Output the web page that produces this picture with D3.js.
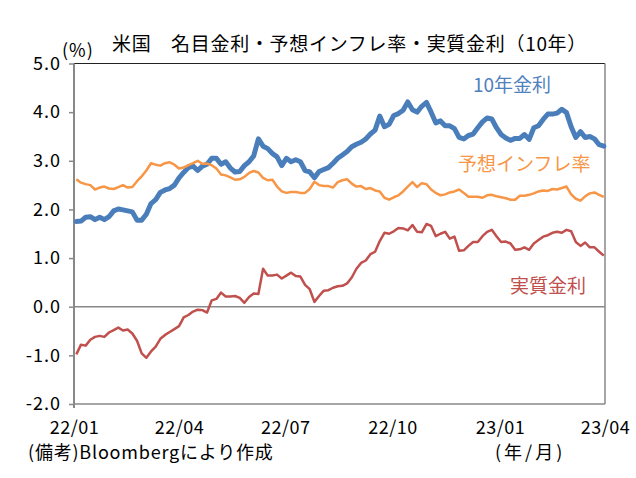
<!DOCTYPE html>
<html>
<head>
<meta charset="utf-8">
<script src="https://cdn.jsdelivr.net/npm/d3@7"></script>
<style>
  body { margin: 0; background: #fff; }
  text { font-family: "Noto Sans CJK JP", "Noto Sans", sans-serif; }
</style>
</head>
<body>
<div id="chart"></div>
<script>
// sample dates (every 4 days)
var dates = [
  "2022-01-03","2022-01-07","2022-01-11","2022-01-15","2022-01-19","2022-01-23","2022-01-27","2022-01-31",
  "2022-02-04","2022-02-08","2022-02-12","2022-02-16","2022-02-20","2022-02-24","2022-02-28",
  "2022-03-04","2022-03-08","2022-03-12","2022-03-16","2022-03-20","2022-03-24","2022-03-28",
  "2022-04-01","2022-04-05","2022-04-09","2022-04-13","2022-04-17","2022-04-21","2022-04-25","2022-04-29",
  "2022-05-03","2022-05-07","2022-05-11","2022-05-15","2022-05-19","2022-05-23","2022-05-27","2022-05-31",
  "2022-06-04","2022-06-08","2022-06-12","2022-06-16","2022-06-20","2022-06-24","2022-06-28",
  "2022-07-02","2022-07-06","2022-07-10","2022-07-14","2022-07-18","2022-07-22","2022-07-26","2022-07-30",
  "2022-08-03","2022-08-07","2022-08-11","2022-08-15","2022-08-19","2022-08-23","2022-08-27","2022-08-31",
  "2022-09-04","2022-09-08","2022-09-12","2022-09-16","2022-09-20","2022-09-24","2022-09-28",
  "2022-10-02","2022-10-06","2022-10-10","2022-10-14","2022-10-18","2022-10-22","2022-10-26","2022-10-30",
  "2022-11-03","2022-11-07","2022-11-11","2022-11-15","2022-11-19","2022-11-23","2022-11-27",
  "2022-12-01","2022-12-05","2022-12-09","2022-12-13","2022-12-17","2022-12-21","2022-12-25","2022-12-29",
  "2023-01-02","2023-01-06","2023-01-10","2023-01-14","2023-01-18","2023-01-22","2023-01-26","2023-01-30",
  "2023-02-03","2023-02-07","2023-02-11","2023-02-15","2023-02-19","2023-02-23","2023-02-27",
  "2023-03-03","2023-03-07","2023-03-11","2023-03-15","2023-03-19","2023-03-23","2023-03-27","2023-03-31"
];

// 10年金利
var nominal = [
  1.75,1.76,1.84,1.85,1.79,1.84,1.79,1.85,
  1.97,2.01,1.99,1.97,1.95,1.78,1.78,
  1.90,2.12,2.20,2.35,2.40,2.43,2.50,
  2.65,2.76,2.86,2.89,2.80,2.89,2.93,3.05,
  3.05,2.93,2.98,2.85,2.77,2.78,2.90,2.98,
  3.10,3.45,3.30,3.25,3.15,3.08,2.90,
  3.05,2.98,3.02,2.98,2.80,2.77,2.65,2.78,
  2.82,2.86,2.95,3.05,3.12,3.19,3.29,3.34,
  3.38,3.45,3.55,3.63,3.92,3.70,3.75,
  3.93,3.97,4.04,4.21,4.05,4.00,4.12,4.20,
  4.00,3.78,3.82,3.72,3.72,3.66,3.48,
  3.45,3.52,3.55,3.68,3.80,3.88,3.86,3.68,
  3.54,3.47,3.42,3.46,3.46,3.54,3.44,3.68,
  3.72,3.85,3.96,3.96,3.98,4.06,3.99,
  3.70,3.48,3.60,3.48,3.50,3.45,3.33,3.30
];

// 予想インフレ率
var breakeven = [
  2.62,2.55,2.52,2.50,2.41,2.45,2.47,2.43,
  2.42,2.46,2.50,2.45,2.46,2.58,2.68,
  2.80,2.95,2.92,2.90,2.95,2.97,2.92,
  2.84,2.86,2.91,2.95,3.00,2.94,2.94,2.91,
  2.84,2.72,2.70,2.66,2.61,2.62,2.67,2.75,
  2.79,2.76,2.65,2.60,2.61,2.47,2.37,
  2.34,2.36,2.36,2.34,2.34,2.42,2.57,2.50,
  2.48,2.48,2.45,2.56,2.60,2.62,2.53,2.47,
  2.48,2.42,2.44,2.39,2.37,2.24,2.20,
  2.25,2.29,2.37,2.47,2.56,2.46,2.54,2.52,
  2.41,2.34,2.29,2.31,2.35,2.37,2.41,
  2.34,2.26,2.26,2.26,2.24,2.29,2.30,2.27,
  2.25,2.23,2.20,2.20,2.28,2.28,2.30,2.33,
  2.37,2.39,2.38,2.42,2.41,2.44,2.47,
  2.31,2.22,2.18,2.27,2.33,2.35,2.30,2.26
];

// 実質金利
var real = [
  -0.98,-0.78,-0.80,-0.68,-0.62,-0.60,-0.62,-0.53,
  -0.48,-0.43,-0.49,-0.47,-0.55,-0.70,-0.96,
  -1.05,-0.92,-0.82,-0.66,-0.58,-0.52,-0.46,
  -0.40,-0.22,-0.17,-0.10,-0.06,-0.07,-0.12,0.13,
  0.16,0.29,0.21,0.21,0.22,0.18,0.08,0.20,
  0.27,0.26,0.78,0.64,0.64,0.66,0.58,
  0.64,0.70,0.63,0.62,0.45,0.36,0.10,0.22,
  0.33,0.34,0.39,0.42,0.43,0.48,0.60,0.78,
  0.90,0.95,1.08,1.13,1.35,1.52,1.50,
  1.55,1.62,1.61,1.57,1.68,1.54,1.53,1.70,
  1.66,1.45,1.50,1.54,1.40,1.44,1.15,
  1.16,1.25,1.33,1.33,1.45,1.54,1.58,1.45,
  1.33,1.34,1.30,1.17,1.18,1.22,1.17,1.30,
  1.37,1.44,1.47,1.52,1.54,1.52,1.58,
  1.55,1.33,1.25,1.32,1.22,1.22,1.13,1.05
];

var yTicks = [-2, -1, 0, 1, 2, 3, 4, 5];
var xTicks = ["2022-01-01","2022-04-01","2022-07-01","2022-10-01","2023-01-01","2023-04-01"];

var width = 636, height = 478;
var margin = {top: 63.5, right: 31, bottom: 74, left: 74};

var parse = d3.timeParse("%Y-%m-%d");
var X = d3.scaleTime()
    .domain([parse("2022-01-01"), parse("2023-04-01")])
    .range([margin.left, width - margin.right]);
var Y = d3.scaleLinear()
    .domain([-2, 5])
    .range([height - margin.bottom, margin.top]);

var svg = d3.select("#chart").append("svg")
    .attr("width", width)
    .attr("height", height);

// plot frame
svg.append("line")
    .attr("x1", X.range()[0]).attr("x2", X.range()[1])
    .attr("y1", Y(5)).attr("y2", Y(5))
    .attr("stroke", "#222").attr("stroke-width", 1.2);
svg.append("line")
    .attr("x1", X.range()[1]).attr("x2", X.range()[1])
    .attr("y1", Y(5)).attr("y2", Y(-2))
    .attr("stroke", "#888").attr("stroke-width", 1.5);
svg.append("line")
    .attr("x1", X.range()[0]).attr("x2", X.range()[1])
    .attr("y1", Y(-2)).attr("y2", Y(-2))
    .attr("stroke", "#888").attr("stroke-width", 1.5);
svg.append("line")
    .attr("x1", X.range()[0]).attr("x2", X.range()[1])
    .attr("y1", Y(0)).attr("y2", Y(0))
    .attr("stroke", "#888").attr("stroke-width", 1.5);

// y axis
var yAxis = svg.append("g")
    .attr("transform", "translate(" + margin.left + ",0)")
    .call(d3.axisLeft(Y).tickValues(yTicks).tickSize(5).tickPadding(8)
        .tickFormat(function(d) { return d.toFixed(1); }));
yAxis.select(".domain").attr("stroke", "#888").attr("stroke-width", 2)
    .attr("d", "M0," + Y(5) + "V" + (Y(-2) + 4));
yAxis.selectAll(".tick line").attr("stroke", "#888").attr("stroke-width", 1.5);
yAxis.selectAll("text")
    .attr("fill", "#000")
    .style("font-size", "18px")
    .style("font-family", '"Noto Sans CJK JP", sans-serif')
    .style("letter-spacing", "1px");

// x axis
var xAxis = svg.append("g")
    .attr("transform", "translate(0," + Y(-2) + ")")
    .call(d3.axisBottom(X).tickValues(xTicks.map(parse)).tickSize(0).tickPadding(17)
        .tickFormat(d3.timeFormat("%y/%m")));
xAxis.select(".domain").remove();
xAxis.selectAll("text")
    .attr("fill", "#000")
    .style("font-size", "18px")
    .style("font-family", '"Noto Sans CJK JP", sans-serif')
    .style("letter-spacing", "0.5px");

// lines
function series(vals) {
    return vals.map(function(v, i) { return {date: parse(dates[i]), value: v}; });
}
var line = d3.line()
    .x(function(d) { return X(d.date); })
    .y(function(d) { return Y(d.value); });

svg.append("path").datum(series(nominal))
    .attr("d", line).attr("fill", "none")
    .attr("stroke", "#4a7ebb").attr("stroke-width", 5)
    .attr("stroke-linejoin", "round").attr("stroke-linecap", "round");
svg.append("path").datum(series(breakeven))
    .attr("d", line).attr("fill", "none")
    .attr("stroke", "#f79646").attr("stroke-width", 2.5)
    .attr("stroke-linejoin", "round");
svg.append("path").datum(series(real))
    .attr("d", line).attr("fill", "none")
    .attr("stroke", "#c0504d").attr("stroke-width", 2.5)
    .attr("stroke-linejoin", "round");

// series labels
svg.append("text").attr("x", 473).attr("y", 92)
    .attr("fill", "#4f81bd").style("font-size", "19px").text("10年金利");
svg.append("text").attr("x", 458).attr("y", 171)
    .attr("fill", "#f79646").style("font-size", "19px").text("予想インフレ率");
svg.append("text").attr("x", 510).attr("y", 293)
    .attr("fill", "#c0504d").style("font-size", "19px").text("実質金利");

// title, unit, notes
svg.append("text").attr("x", 112).attr("y", 51)
    .attr("fill", "#000").style("font-size", "19px").style("letter-spacing", "0.7px")
    .text("米国　名目金利・予想インフレ率・実質金利（10年）");
svg.append("text").attr("x", 62).attr("y", 57)
    .attr("fill", "#000").style("font-size", "18px").style("letter-spacing", "1px").text("(%)");
svg.append("text").attr("x", 28).attr("y", 459)
    .attr("fill", "#000").style("font-size", "18px").style("letter-spacing", "0.8px")
    .text("(備考)Bloombergにより作成");
svg.append("text").attr("x", 495).attr("y", 459)
    .attr("fill", "#000").style("font-size", "18px").style("letter-spacing", "3px").text("(年/月)");
</script>
</body>
</html>
